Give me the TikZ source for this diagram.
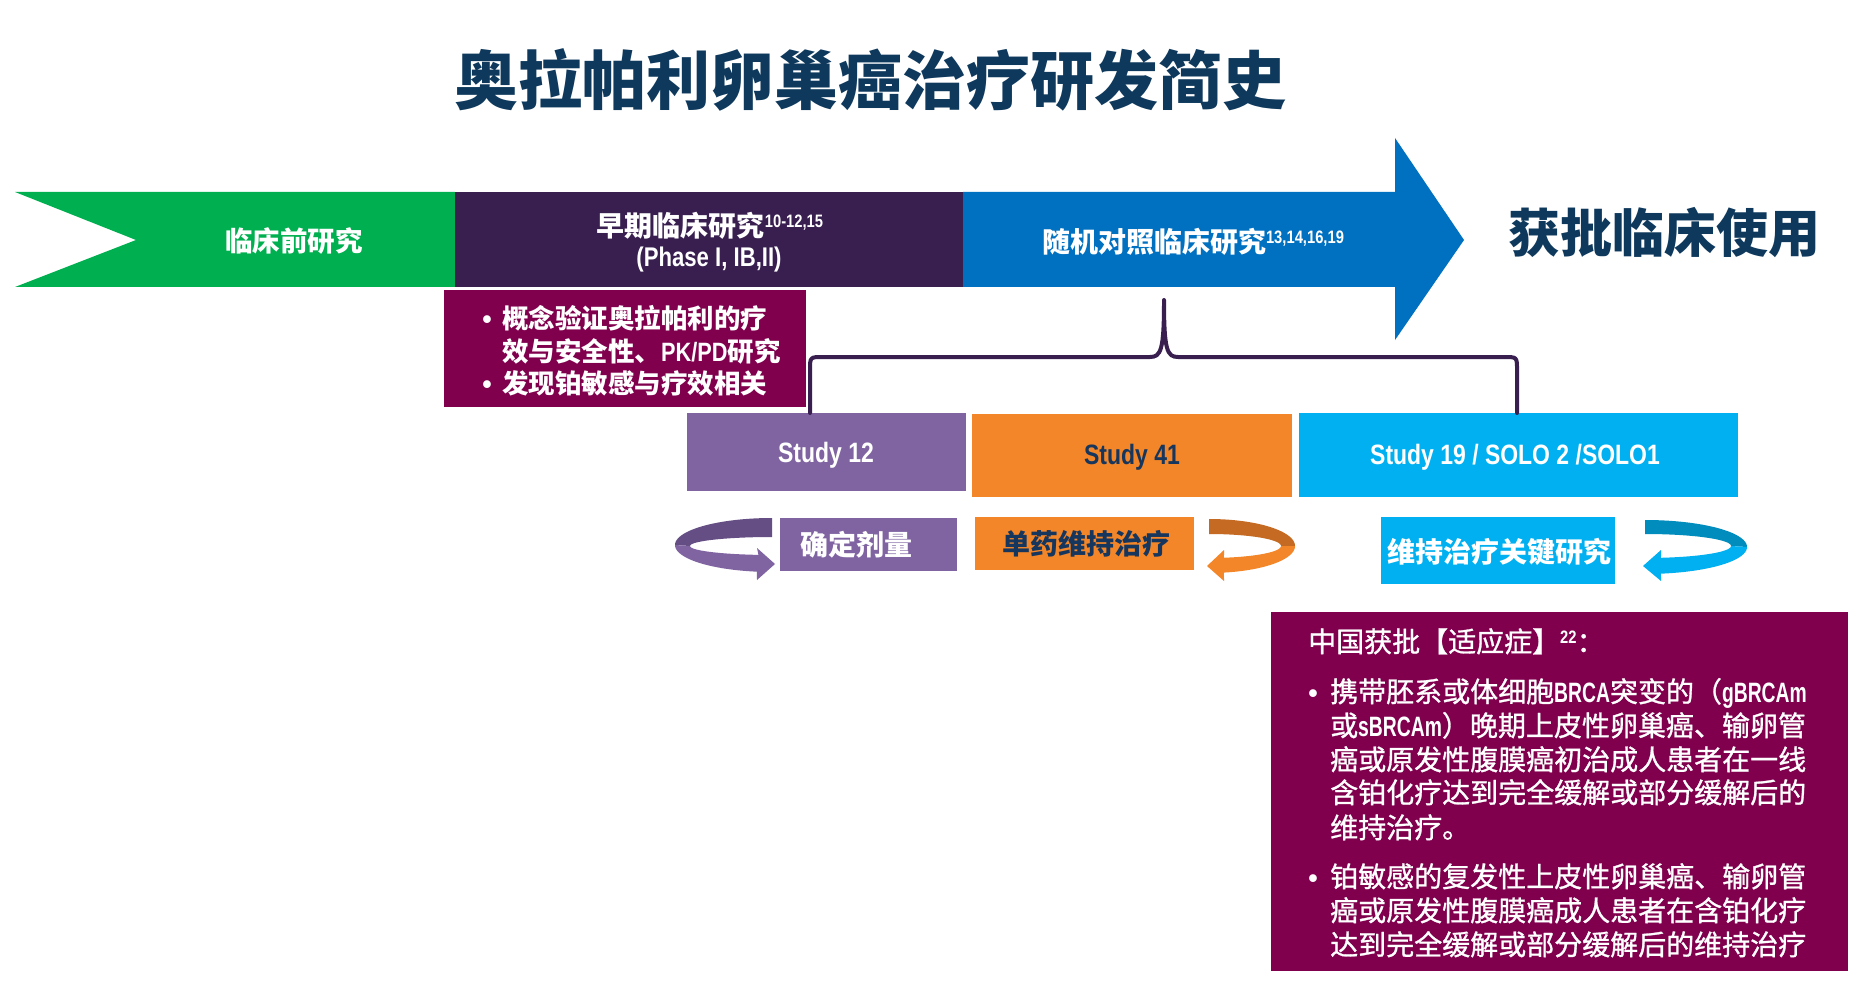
\documentclass[tikz,border=0pt]{standalone}
\usepackage{fontspec}
\setmainfont{Liberation Sans}
\newfontfamily\cjk{Noto Sans CJK SC}
\newfontfamily\cjkm[FakeBold=1]{Noto Sans CJK SC}
\newfontfamily\narrow[FakeStretch=0.82]{Liberation Sans}
\newfontfamily\narrowx[FakeStretch=0.69]{Liberation Sans}
\newcommand\mysup[2]{\raisebox{#1}{\narrow\bfseries\fontsize{18}{18}\selectfont #2}}
\newcommand\lat[1]{{\narrowx\bfseries #1}}
\definecolor{cgreen}{RGB}{0,176,80}
\definecolor{cdark}{RGB}{56,31,80}
\definecolor{cblue}{RGB}{0,112,192}
\definecolor{cmag}{RGB}{128,0,78}
\definecolor{cnavy}{RGB}{14,57,92}
\definecolor{cnavyb}{RGB}{23,54,93}
\definecolor{cpur}{RGB}{128,100,162}
\definecolor{cpurd}{RGB}{100,78,132}
\definecolor{corg}{RGB}{243,134,40}
\definecolor{corgd}{RGB}{196,106,34}
\definecolor{ccyan}{RGB}{0,176,240}
\definecolor{ccyand}{RGB}{0,140,188}
\begin{document}
\begin{tikzpicture}[x=1pt,y=-1pt,
  boxn/.style={inner sep=0pt, outer sep=0pt},
  lbl/.style={inner sep=0pt, text=white, font=\cjk\bfseries\fontsize{28}{28}\selectfont},
  lblb/.style={inner sep=0pt, text=white, font=\cjk\bfseries\fontsize{26.5}{26.5}\selectfont},
  lblm/.style={inner sep=0pt, text=white, font=\cjkm\fontsize{28}{28}\selectfont},
  stud/.style={inner sep=0pt, font=\narrow\bfseries\fontsize{28}{28}\selectfont},
  bul/.style={inner sep=0pt, text=white, font=\bfseries\fontsize{27}{27}\selectfont},
  brace/.style={draw=cdark, line width=4pt, line cap=round, line join=round}]
\useasboundingbox (0,0) rectangle (1859,981);
\fill[white] (0,0) rectangle (1859,981);

% title
\node[inner sep=0pt, text=cnavy, font=\cjk\bfseries\fontsize{64}{64}\selectfont] (title) at (870,80) {奥拉帕利卵巢癌治疗研发简史};

% bands
\fill[cgreen] (15,192) -- (455,192) -- (455,287) -- (15,287) -- (136,240) -- cycle;
\fill[cdark] (455,192) rectangle (963,287);
\fill[cblue] (963,192) -- (1395,192) -- (1395,138) -- (1464,240) -- (1395,340) -- (1395,287) -- (963,287) -- cycle;

\node[lbl, font=\cjk\bfseries\fontsize{27.5}{27.5}\selectfont] (pre) at (294,241) {临床前研究};
\node[lbl] (early) at (710,226) {早期临床研究\mysup{9pt}{10-12,15}};
\node[stud, text=white, font=\narrow\bfseries\fontsize{27}{27}\selectfont] (phase) at (709,260) {(Phase I, IB,II)};
\node[lbl] (rct) at (1193,242) {随机对照临床研究\mysup{9pt}{13,14,16,19}};
\node[inner sep=0pt, text=cnavy, font=\cjk\bfseries\fontsize{52}{52}\selectfont] (appr) at (1664,233) {获批临床使用};

% early box
\node[boxn, fill=cmag, minimum width=362pt, minimum height=117pt, anchor=north west] (b1) at (444,290) {};
\node[bul, anchor=base] (b1d1) at (487,328) {•};
\node[lblb, anchor=base west] (b1l1) at (502,328) {概念验证奥拉帕利的疗};
\node[lblb, anchor=base west] (b1l2) at (502,361) {效与安全性、{\narrow\bfseries PK/PD}研究};
\node[bul, anchor=base] (b1d2) at (487,393) {•};
\node[lblb, anchor=base west] (b1l3) at (502,393) {发现铂敏感与疗效相关};

% study boxes
\node[boxn, fill=cpur, minimum width=279pt, minimum height=78pt] (s12) at (826.5,452) {};
\node[stud, text=white] (s12t) at (826,455) {Study 12};
\node[boxn, fill=corg, minimum width=320pt, minimum height=83pt] (s41) at (1132,455.5) {};
\node[stud, text=cnavyb] (s41t) at (1132,457) {Study 41};
\node[boxn, fill=ccyan, minimum width=439pt, minimum height=84pt] (s19) at (1518.5,455) {};
\node[stud, text=white] (s19t) at (1515,457) {Study 19 / SOLO 2 /SOLO1};

% brace
\coordinate (brl) at (810,413);
\coordinate (brr) at (1517,413);
\coordinate (brp) at (1164,300);
\draw[brace] (brl) -- (810,370) .. controls (810,357) .. (823,357) -- (1150,357)
  .. controls (1161,357) and (1164,350) .. (brp)
  .. controls (1164,350) and (1167,357) .. (1178,357) -- (1504,357)
  .. controls (1517,357) .. (1517,370) -- (brr);

% small boxes
\node[boxn, fill=cpur, minimum width=177pt, minimum height=53pt] (d1) at (868.5,544.5) {};
\node[lbl] (d1t) at (856,545) {确定剂量};
\node[boxn, fill=corg, minimum width=219pt, minimum height=53pt] (d2) at (1084.5,543.5) {};
\node[lbl, text=cnavyb] (d2t) at (1086,544) {单药维持治疗};
\node[boxn, fill=ccyan, minimum width=234pt, minimum height=67pt] (d3) at (1498,550.5) {};
\node[lbl] (d3t) at (1499,552) {维持治疗关键研究};

% curved arrows
% purple (opens right)
\fill[cpurd] plot[domain=90:180,samples=40] ({772+97*cos(\x)},{545-27*sin(\x)})
  -- plot[domain=180:90,samples=40] ({772+82*cos(\x)},{546-9*sin(\x)}) -- cycle;
\fill[cpur] plot[domain=180:261,samples=40] ({772+97*cos(\x)},{545-27*sin(\x)})
  -- (757,580) -- (775,564) -- (757,548)
  -- plot[domain=260.5:180,samples=40] ({772+82*cos(\x)},{546-9*sin(\x)}) -- cycle;
% orange (opens left)
\fill[corgd] plot[domain=90:0,samples=40] ({1209+86*cos(\x)},{546-27*sin(\x)})
  -- plot[domain=0:90,samples=40] ({1209+72*cos(\x)},{546-12*sin(\x)}) -- cycle;
\fill[corg] plot[domain=0:-80,samples=40] ({1209+86*cos(\x)},{546-27*sin(\x)})
  -- (1224,581) -- (1207,566) -- (1224,550)
  -- plot[domain=-78:0,samples=40] ({1209+72*cos(\x)},{546-12*sin(\x)}) -- cycle;
% cyan (opens left)
\fill[ccyand] plot[domain=90:0,samples=40] ({1645+102*cos(\x)},{547-27*sin(\x)})
  -- plot[domain=0:90,samples=40] ({1645+86*cos(\x)},{546-12*sin(\x)}) -- cycle;
\fill[ccyan] plot[domain=0:-81,samples=40] ({1645+102*cos(\x)},{547-27*sin(\x)})
  -- (1661,581) -- (1643,566) -- (1661,550)
  -- plot[domain=-79.3:0,samples=40] ({1645+86*cos(\x)},{546-12*sin(\x)}) -- cycle;

% approval box
\node[boxn, fill=cmag, minimum width=577pt, minimum height=359pt, anchor=north west] (b2) at (1271,612) {};
\node[lblm, anchor=base west] (h) at (1308,652) {中国获批【适应症】\mysup{9pt}{22}：};
\node[bul, anchor=base] (b2d1) at (1313,702) {•};
\node[lblm, anchor=base west] (l1) at (1330,702) {携带胚系或体细胞\lat{BRCA}突变的（\lat{gBRCAm}};
\node[lblm, anchor=base west] (l2) at (1330,736) {或\lat{sBRCAm}）晚期上皮性卵巢癌、输卵管};
\node[lblm, anchor=base west] (l3) at (1330,770) {癌或原发性腹膜癌初治成人患者在一线};
\node[lblm, anchor=base west] (l4) at (1330,803) {含铂化疗达到完全缓解或部分缓解后的};
\node[lblm, anchor=base west] (l5) at (1330,838) {维持治疗。};
\node[bul, anchor=base] (b2d2) at (1313,887) {•};
\node[lblm, anchor=base west] (l6) at (1330,887) {铂敏感的复发性上皮性卵巢癌、输卵管};
\node[lblm, anchor=base west] (l7) at (1330,921) {癌或原发性腹膜癌成人患者在含铂化疗};
\node[lblm, anchor=base west] (l8) at (1330,955) {达到完全缓解或部分缓解后的维持治疗};
\end{tikzpicture}
\end{document}
